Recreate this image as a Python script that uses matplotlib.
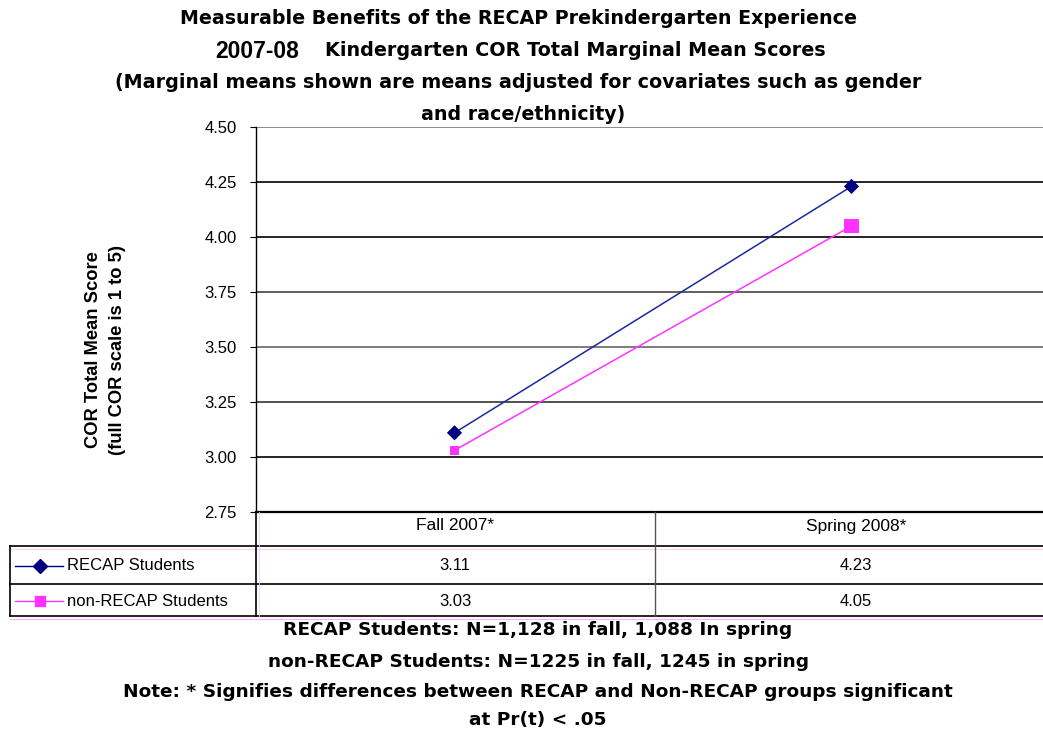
import matplotlib
matplotlib.use("Agg")
import matplotlib.pyplot as plt
from matplotlib.lines import Line2D

plt.rcParams['font.family'] = ['Liberation Sans', 'DejaVu Sans']

categories = ["Fall 2007*", "Spring 2008*"]
series_names = ["RECAP Students", "non-RECAP Students"]
recap = [3.11, 4.23]
non_recap = [3.03, 4.05]
series_values = [recap, non_recap]
y_ticks = [2.75, 3.00, 3.25, 3.50, 3.75, 4.00, 4.25, 4.50]

title_lines = [
    "Measurable Benefits of the RECAP Prekindergarten Experience",
    "Kindergarten COR Total Marginal Mean Scores",
    "(Marginal means shown are means adjusted for covariates such as gender",
    "and race/ethnicity)",
]
ylabel_lines = ["COR Total Mean Score", "(full COR scale is 1 to 5)"]
footer_lines = [
    "RECAP Students: N=1,128 in fall, 1,088 In spring",
    "non-RECAP Students: N=1225 in fall, 1245 in spring",
    "Note: * Signifies differences between RECAP and Non-RECAP groups significant",
    "at Pr(t) < .05",
]

W, H = 1043, 733
fig = plt.figure(figsize=(W / 100, H / 100), dpi=100)

def fx(px):
    return px / W

def fy(py):
    return 1 - py / H

BOLD = dict(fontweight="bold", family=["DejaVu Sans"])
ABOLD = dict(fontweight="bold", family=["Liberation Sans"])

ax_left, ax_right, ax_top, ax_bot = 256, 1050, 127, 512
ax = fig.add_axes([fx(ax_left), fy(ax_bot), fx(ax_right - ax_left), fy(ax_top) - fy(ax_bot)])
ax.set_xlim(-0.5, 1.5)
ax.set_ylim(2.75, 4.50)
ax.set_yticks(y_ticks)
ax.set_yticklabels([f"{t:.2f}" for t in y_ticks], fontsize=12)
ax.set_xticks([])
grid_colors = ["black", "black", "#333333", "#666666", "#444444", "black", "black", "#777777"]
for t, gc in zip(y_ticks, grid_colors):
    ax.axhline(t, color=gc, lw=1.2, zorder=1)
for s in ["top", "right", "bottom"]:
    ax.spines[s].set_visible(False)
ax.spines["left"].set_linewidth(1.0)
ax.tick_params(axis="y", length=4, width=0.8, pad=10)

colors = ["#000080", "#FF33FF"]
markers = ["D", "s"]
xs = list(range(len(categories)))
ax.plot(xs, recap, color="#1a2a9a", lw=1.1, zorder=3)
ax.plot(xs, non_recap, color=colors[1], lw=1.1, zorder=3)
ax.scatter(xs, recap, marker="D", s=[60, 60], color=colors[0], zorder=4, linewidths=0)
ax.scatter(xs, non_recap, marker="s", s=[40, 110], color=colors[1], zorder=4, linewidths=0)

# Y label (two lines)
fig.text(fx(93), fy(350), ylabel_lines[0], rotation=90, ha="center", va="center",
         fontsize=13.2, **ABOLD)
fig.text(fx(117), fy(350), ylabel_lines[1], rotation=90, ha="center", va="center",
         fontsize=13.2, **ABOLD)

# Titles
fig.text(fx(518), fy(18), title_lines[0], ha="center", va="center", fontsize=13.7, **BOLD)
fig.text(fx(215), fy(51), "2007-08", ha="left", va="center", fontsize=16.5, **ABOLD)
fig.text(fx(325), fy(50), title_lines[1], ha="left", va="center", fontsize=13.8, **BOLD)
fig.text(fx(518), fy(83), title_lines[2], ha="center", va="center", fontsize=13.75, **BOLD)
fig.text(fx(523), fy(115), title_lines[3], ha="center", va="center", fontsize=13.7, **BOLD)

# Data table
row_y = [512, 546, 584, 616]
col_x = [10, 256, 655, 1043]
def hline(x0, x1, y, color="black", lw=1.0):
    fig.add_artist(Line2D([fx(x0), fx(x1)], [fy(y), fy(y)], color=color, lw=lw))
def vline(x, y0, y1, color="black", lw=1.0):
    fig.add_artist(Line2D([fx(x), fx(x)], [fy(y0), fy(y1)], color=color, lw=lw))

hline(col_x[1], col_x[3], row_y[0], lw=1.6)
hline(col_x[0], col_x[3], row_y[1], lw=1.2)
hline(col_x[0], col_x[3], row_y[2], lw=1.2)
hline(col_x[0], col_x[3], row_y[3], lw=1.2)
hline(col_x[0], col_x[3], row_y[3] + 3, color="#FFB0FF", lw=0.8)
hline(col_x[0], col_x[3], row_y[1] + 3, color="#FFC8FF", lw=0.6)
vline(col_x[0], row_y[1], row_y[3], lw=1.2)
vline(col_x[1], row_y[0], row_y[3], lw=1.2)
vline(col_x[1] + 3, row_y[0], row_y[3], color="#FFC8FF", lw=0.6)
vline(col_x[2], row_y[0], row_y[3], color="#555555")

centers = [455, 856]
for c, cat in zip(centers, categories):
    fig.text(fx(c), fy(526), cat, ha="center", va="center", fontsize=12.5)

for i, (name, vals) in enumerate(zip(series_names, series_values)):
    yc = (row_y[i + 1] + row_y[i + 2]) / 2 + 1
    fig.add_artist(Line2D([fx(15), fx(63)], [fy(yc), fy(yc)], color=colors[i], lw=1.0))
    fig.add_artist(Line2D([fx(40)], [fy(yc)], color=colors[i], marker=markers[i],
                          ms=7, mfc=colors[i], mec=colors[i]))
    fig.text(fx(67), fy(yc), name, ha="left", va="center", fontsize=12)
    for c, v in zip(centers, vals):
        fig.text(fx(c), fy(yc), f"{v:.2f}", ha="center", va="center", fontsize=12)

# Footer
for y, line in zip([630, 662, 692, 720], footer_lines):
    fig.text(fx(538), fy(y), line, ha="center", va="center", fontsize=13.3, **BOLD)

fig.savefig("out.png", dpi=100)
